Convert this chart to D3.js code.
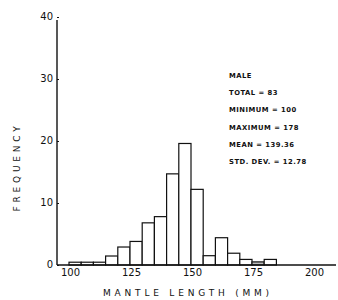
<!DOCTYPE html>
<html>
<head>
<meta charset="utf-8">
<title>Mantle length</title>
<script src="https://cdn.jsdelivr.net/npm/d3@7"></script>
<style>
	body { margin: 0; background: white; }
	svg text { font-family: "DejaVu Sans", sans-serif; fill: #111; }
	.tick text { font-size: 10px; }
	.stats text { font-size: 6.8px; font-weight: bold; letter-spacing: 0.5px; }
	.title { font-size: 9px; letter-spacing: 3.8px; }
	.bar { stroke: #111; stroke-width: 1.2px; }
</style>
</head>
<body>
<svg id="chart" width="338" height="300"></svg>
<script>
	// bin starts (mm), 5 mm wide
	var binStart = [100, 105, 110, 115, 120, 125, 130, 135, 140, 145, 150, 155, 160, 165, 170, 175, 180];
	var freq     = [0.45, 0.45, 0.45, 1.45, 2.9, 3.8, 6.8, 7.8, 14.7, 19.6, 12.2, 1.5, 4.4, 1.9, 0.9, 0.5, 0.9];
	var xTicks = [100, 125, 150, 175, 200];
	var yTicks = [0, 10, 20, 30, 40];
	var stats = ["MALE", "TOTAL = 83", "MINIMUM = 100", "MAXIMUM = 178", "MEAN = 139.36", "STD. DEV. = 12.78"];

	var svg = d3.select("#chart");

	var x = d3.scaleLinear().domain([100, 200]).range([69, 313]);
	var y = d3.scaleLinear().domain([0, 40]).range([265, 17]);

	// bars
	svg.selectAll("rect.bar")
		.data(binStart).enter().append("rect")
			.classed("bar", true)
			.attr("x", d => x(d))
			.attr("width", d => x(d + 5) - x(d))
			.attr("y", (d, i) => y(freq[i]))
			.attr("height", (d, i) => y(0) - y(freq[i]))
			.attr("fill", d => d == 175 ? "#bbb" : "white");

	// axis lines
	svg.append("line")
		.attr("x1", 57).attr("x2", 57)
		.attr("y1", 20).attr("y2", y(0))
		.attr("stroke", "#111").attr("stroke-width", 1.4);
	svg.append("line")
		.attr("x1", 57).attr("x2", 336)
		.attr("y1", y(0)).attr("y2", y(0))
		.attr("stroke", "#111").attr("stroke-width", 1.4);

	var yAxis = svg.append("g")
		.attr("transform", "translate(57,0)")
		.call(d3.axisLeft(y).tickValues(yTicks).tickSize(-2).tickPadding(4));
	yAxis.select(".domain").remove();
	yAxis.selectAll(".tick line").attr("stroke", "#111");
	yAxis.selectAll(".tick text").attr("dy", "0.2em");

	var xAxis = svg.append("g")
		.attr("transform", "translate(0," + y(0) + ")")
		.call(d3.axisBottom(x).tickValues(xTicks).tickSize(0).tickPadding(4));
	xAxis.select(".domain").remove();
	xAxis.selectAll(".tick text").attr("dx", "0.1em");

	// axis titles
	svg.append("text")
		.attr("class", "title")
		.attr("x", 188).attr("y", 296)
		.attr("text-anchor", "middle")
		.text("MANTLE LENGTH (MM)");

	svg.append("text")
		.attr("class", "title")
		.attr("transform", "translate(20,167) rotate(-90)")
		.attr("text-anchor", "middle")
		.text("FREQUENCY");

	// summary block
	svg.append("g").attr("class", "stats")
		.selectAll("text")
		.data(stats).enter().append("text")
			.attr("x", 229)
			.attr("y", (d, i) => 78 + i * 17.2)
			.text(d => d);
</script>
</body>
</html>
